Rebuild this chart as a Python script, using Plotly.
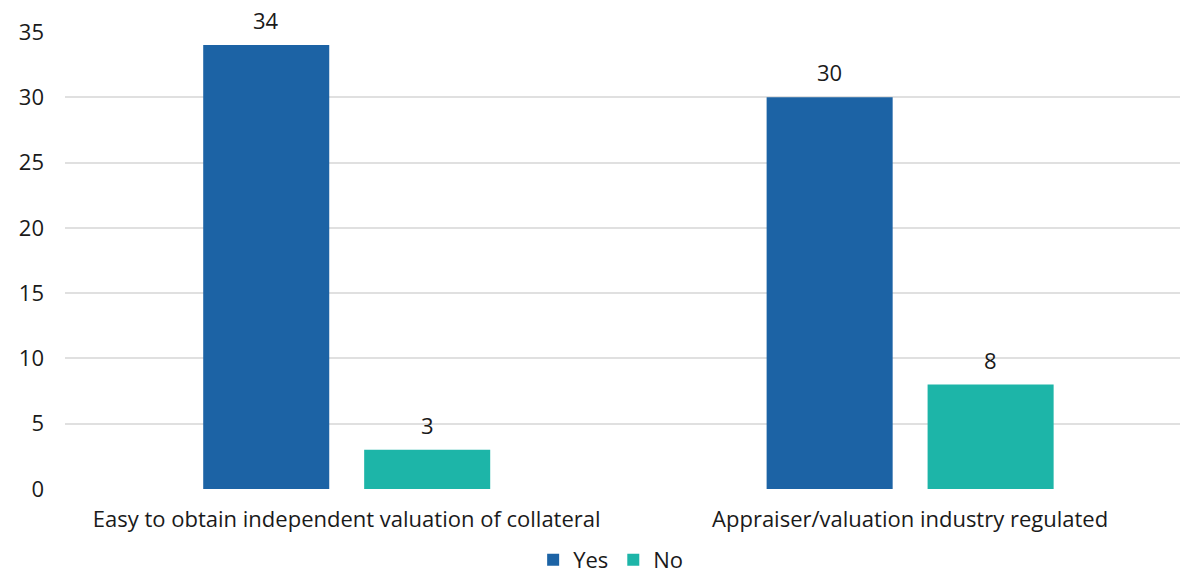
import plotly.graph_objects as go

categories = ["Easy to obtain independent valuation of collateral", "Appraiser/valuation industry regulated"]
yes_values = [34, 30]
no_values = [3, 8]
y_ticks = [0, 5, 10, 15, 20, 25, 30, 35]

FONT = "Open Sans"
FS = 22
TXT = "#1a1a1a"
YES_COLOR = "#1C63A5"
NO_COLOR = "#1DB5A8"

fig = go.Figure()
fig.add_trace(go.Bar(name="Yes", x=categories, y=yes_values, marker_color=YES_COLOR,
                     marker_line_width=0))
fig.add_trace(go.Bar(name="No", x=categories, y=no_values, marker_color=NO_COLOR,
                     marker_line_width=0))

# value labels above bars (group offset = half a bar slot)
slot_px = 80.5
for vals, sign in ((yes_values, -1), (no_values, 1)):
    for cat, v in zip(categories, vals):
        fig.add_annotation(x=cat, y=v, text=str(v), showarrow=False,
                           xref="x", yref="y", yanchor="bottom",
                           xshift=sign * slot_px, yshift=8,
                           font=dict(family=FONT, size=FS, color=TXT))

fig.update_layout(
    width=1180, height=581,
    margin=dict(l=65, r=0, t=32, b=92, autoexpand=False),
    barmode="group", bargap=0.4286, bargroupgap=0.217,
    plot_bgcolor="white", paper_bgcolor="white",
    font=dict(family=FONT, size=FS, color=TXT),
    showlegend=True,
    legend=dict(orientation="h", xref="container", x=0.5175, xanchor="center",
                yref="container", y=-0.025, yanchor="bottom",
                font=dict(size=FS), itemwidth=30, tracegroupgap=0),
    xaxis=dict(range=[-0.5, 1.479], showgrid=False, showline=False, ticks="",
               tickfont=dict(size=FS), ticklabelstandoff=15),
    yaxis=dict(range=[0, 35], tickvals=y_ticks, showgrid=True, gridcolor="#E0E0E0",
               gridwidth=2, zeroline=False, ticklabelstandoff=20, tickfont=dict(size=FS)),
)
fig.write_html("out.html")
